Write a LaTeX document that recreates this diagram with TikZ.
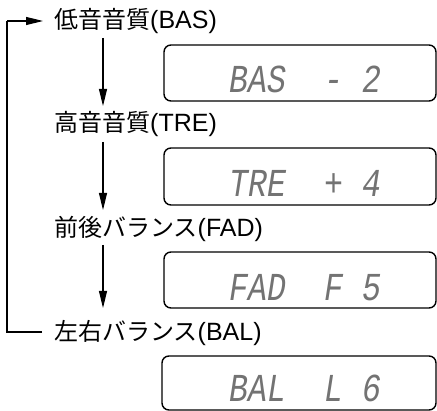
\documentclass[tikz,border=0pt]{standalone}
\usepackage{fontspec}
\newfontfamily\jpfont{Noto Sans CJK JP}
\newfontfamily\latfont{Liberation Sans}
\newfontfamily\lcdfont{Liberation Mono}
\usetikzlibrary{arrows.meta}
\newcommand{\lat}[1]{{\latfont\fontsize{25}{25}\selectfont #1}}
\begin{document}
\begin{tikzpicture}[x=1pt,y=-1pt,
  lbl/.style={anchor=west,inner sep=0pt,font=\jpfont\fontsize{24}{24}\selectfont},
  dispbox/.style={draw,line width=1.4pt,rounded corners=7pt},
  lcdtxt/.style={anchor=base west,inner sep=0pt,text=black!55,font=\lcdfont\itshape\fontsize{31.7}{32}\selectfont},
  flow/.style={line width=1.1pt,-{Triangle[length=17pt,width=8pt]}},
  loopline/.style={line width=1.1pt}]
\useasboundingbox (0,0) rectangle (437,411);
% labels
\node[lbl] (bas) at (54,21) {低音音質\lat{(BAS)}};
\node[lbl] (tre) at (54,124) {高音音質\lat{(TRE)}};
\node[lbl] (fad) at (54,229) {前後バランス\lat{(FAD)}};
\node[lbl] (bal) at (54,333) {左右バランス\lat{(BAL)}};
% vertical arrows
\coordinate (a1s) at (103,38);  \coordinate (a1e) at (103,106);
\coordinate (a2s) at (103,142); \coordinate (a2e) at (103,210);
\coordinate (a3s) at (103,245); \coordinate (a3e) at (103,308);
\draw[flow] (a1s) -- (a1e);
\draw[flow] (a2s) -- (a2e);
\draw[flow] (a3s) -- (a3e);
% loop back
\coordinate (lb) at (42,332);
\coordinate (lt) at (43,21);
\draw[loopline] (lb) -- (7,332) -- (7,21);
\draw[flow] (7,21) -- (lt);
% display boxes
\draw[dispbox] (164,45) rectangle (436,101);
\draw[dispbox] (164,148) rectangle (436,205);
\draw[dispbox] (164,252) rectangle (436,308);
\draw[dispbox] (162,356) rectangle (436,410);
% display texts
\node[lcdtxt] (d1) at (229,93) {\scalebox{1}[1.25]{BAS~~-~2}};
\node[lcdtxt] (d2) at (229,197) {\scalebox{1}[1.25]{TRE~~+~4}};
\node[lcdtxt] (d3) at (229,301) {\scalebox{1}[1.25]{FAD~~F~5}};
\node[lcdtxt] (d4) at (229,402) {\scalebox{1}[1.25]{BAL~~L~6}};
\end{tikzpicture}
\end{document}
